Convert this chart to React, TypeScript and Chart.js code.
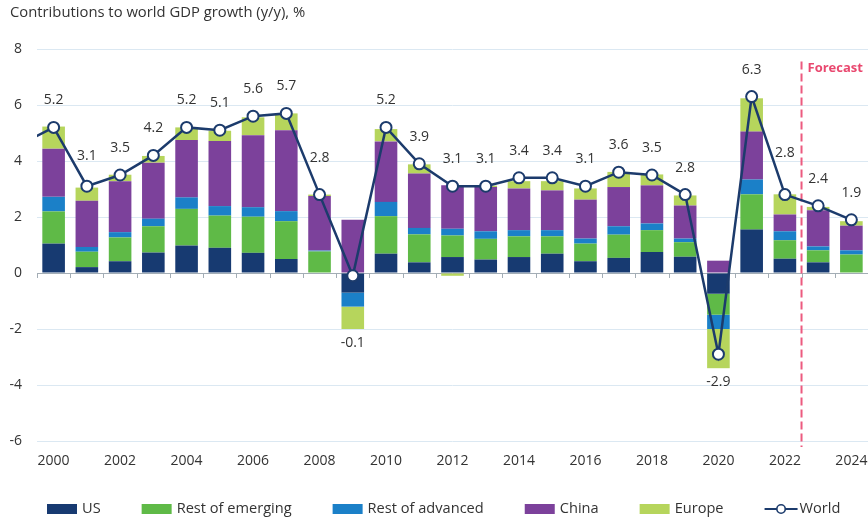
import React, { useEffect, useRef } from "react";
import { Chart, registerables } from "chart.js";

Chart.register(...registerables);

// ---------------- data ----------------
const years = [
  2000, 2001, 2002, 2003, 2004, 2005, 2006, 2007, 2008, 2009, 2010, 2011, 2012,
  2013, 2014, 2015, 2016, 2017, 2018, 2019, 2020, 2021, 2022, 2023, 2024,
];
const tickYears = [2000, 2002, 2004, 2006, 2008, 2010, 2012, 2014, 2016, 2018, 2020, 2022, 2024];

const usData = [1.05, 0.21, 0.42, 0.73, 0.98, 0.9, 0.72, 0.5, 0, -0.7, 0.69, 0.38, 0.57, 0.48, 0.57, 0.69, 0.42, 0.54, 0.75, 0.58, -0.74, 1.55, 0.51, 0.38, 0];
const restEmergingData = [1.15, 0.55, 0.85, 0.94, 1.31, 1.15, 1.29, 1.35, 0.77, 0, 1.34, 1.0, 0.77, 0.74, 0.74, 0.62, 0.63, 0.83, 0.78, 0.52, -0.75, 1.26, 0.66, 0.43, 0.66];
const restAdvancedData = [0.52, 0.17, 0.19, 0.27, 0.41, 0.34, 0.34, 0.36, 0.03, -0.5, 0.51, 0.23, 0.24, 0.27, 0.22, 0.22, 0.18, 0.3, 0.24, 0.13, -0.51, 0.53, 0.32, 0.14, 0.15];
const chinaData = [1.72, 1.65, 1.82, 2.0, 2.05, 2.32, 2.57, 2.89, 1.95, 1.9, 2.16, 1.94, 1.55, 1.58, 1.49, 1.42, 1.39, 1.4, 1.36, 1.18, 0.44, 1.71, 0.6, 1.29, 0.88];
const europeData = [0.79, 0.47, 0.23, 0.24, 0.45, 0.37, 0.64, 0.6, 0.05, -0.8, 0.44, 0.33, -0.1, 0.05, 0.26, 0.33, 0.4, 0.54, 0.39, 0.36, -1.4, 1.19, 0.72, 0.12, 0.16];
const worldData = [5.2, 3.1, 3.5, 4.2, 5.2, 5.1, 5.6, 5.7, 2.8, -0.1, 5.2, 3.9, 3.1, 3.1, 3.4, 3.4, 3.1, 3.6, 3.5, 2.8, -2.9, 6.3, 2.8, 2.4, 1.9];
// the world line enters the chart from the previous year (estimated)
const worldPrevYear = 1999;
const worldPrevValue = 4.6;

const forecastStart = 2022.5;
const forecastLineTopValue = 7.55;
const forecastLabelValue = 7.3;

const titleText = "Contributions to world GDP growth (y/y), %";
const forecastText = "Forecast";

// ---------------- styles ----------------
const FONT = "'Open Sans', 'Noto Sans', sans-serif";
const TEXT = "#333333";
const C_US = "#173a71";
const C_ROE = "#5fba47";
const C_ROA = "#1b80c8";
const C_CHINA = "#7c419b";
const C_EUROPE = "#b6d55c";
const C_WORLD = "#1c3b6c";
const C_FORECAST = "#e9486f";

const barSeries = [
  { label: "US", data: usData, color: C_US },
  { label: "Rest of emerging", data: restEmergingData, color: C_ROE },
  { label: "Rest of advanced", data: restAdvancedData, color: C_ROA },
  { label: "China", data: chinaData, color: C_CHINA },
  { label: "Europe", data: europeData, color: C_EUROPE },
];

const overlayPlugin = {
  id: "overlay",
  beforeDatasetsDraw(chart: any) {
    const { ctx, chartArea, scales } = chart;
    const x = scales.x;
    const y = scales.y;
    const y0 = y.getPixelForValue(0);
    ctx.save();
    // small ticks on the zero line between the bars
    ctx.strokeStyle = "#a3adb5";
    ctx.lineWidth = 1;
    ctx.beginPath();
    const bounds = [years[0] - 0.5, ...years.map((v) => v + 0.5)];
    for (const b of bounds) {
      const px = Math.round(x.getPixelForValue(b)) + 0.5;
      ctx.moveTo(px, y0);
      ctx.lineTo(px, y0 + 5);
    }
    ctx.stroke();
    // forecast divider
    const fx = x.getPixelForValue(forecastStart);
    ctx.strokeStyle = "#ec5a7f";
    ctx.lineWidth = 2;
    ctx.setLineDash([8, 4]);
    ctx.beginPath();
    ctx.moveTo(fx, y.getPixelForValue(forecastLineTopValue));
    ctx.lineTo(fx, chartArea.bottom + 6);
    ctx.stroke();
    ctx.restore();
  },
  afterDraw(chart: any) {
    const { ctx, chartArea, scales } = chart;
    const x = scales.x;
    const y = scales.y;
    ctx.save();

    // title
    ctx.font = `14.8px ${FONT}`;
    ctx.fillStyle = TEXT;
    ctx.textAlign = "left";
    ctx.textBaseline = "middle";
    ctx.fillText(titleText, 10, 13);

    // forecast label
    const fx = x.getPixelForValue(forecastStart);
    ctx.font = `bold 13px ${FONT}`;
    ctx.fillStyle = C_FORECAST;
    ctx.fillText(forecastText, fx + 6, y.getPixelForValue(forecastLabelValue));

    // world value labels
    const meta = chart.getDatasetMeta(barSeries.length);
    ctx.font = `14px ${FONT}`;
    ctx.fillStyle = TEXT;
    ctx.textAlign = "center";
    years.forEach((_yr, i) => {
      const pt = meta.data[i + 1];
      if (!pt) return;
      const v = worldData[i];
      let cy: number;
      if (v < 0) {
        const negSum = barSeries.reduce((s, sr) => s + Math.min(sr.data[i], 0), 0);
        cy = y.getPixelForValue(negSum) + 14;
      } else {
        cy = pt.y - 27;
        const half = 10;
        for (const nb of [meta.data[i], meta.data[i + 2]]) {
          if (!nb) continue;
          const ex = nb.x < pt.x ? pt.x - half : pt.x + half;
          const ly = pt.y + ((nb.y - pt.y) * (ex - pt.x)) / (nb.x - pt.x);
          if (ly < pt.y) cy = Math.min(cy, ly - 12);
        }
      }
      ctx.fillText(v.toFixed(1), pt.x, cy);
    });

    // legend
    ctx.textAlign = "left";
    ctx.font = `14.6px ${FONT}`;
    let lx = chartArea.left + 10;
    const lyc = 509;
    const items = [
      ...barSeries.map((s) => ({ label: s.label, color: s.color, line: false })),
      { label: "World", color: C_WORLD, line: true },
    ];
    for (const it of items) {
      if (it.line) {
        ctx.strokeStyle = it.color;
        ctx.lineWidth = 2;
        ctx.beginPath();
        ctx.moveTo(lx, lyc);
        ctx.lineTo(lx + 33, lyc);
        ctx.stroke();
        ctx.beginPath();
        ctx.arc(lx + 16.5, lyc, 4.2, 0, Math.PI * 2);
        ctx.fillStyle = "#ffffff";
        ctx.fill();
        ctx.lineWidth = 1.6;
        ctx.stroke();
      } else {
        ctx.fillStyle = it.color;
        ctx.fillRect(lx, lyc - 5, 30, 10);
      }
      ctx.fillStyle = TEXT;
      ctx.fillText(it.label, lx + 35, lyc);
      lx += 35 + ctx.measureText(it.label).width + 41;
    }
    ctx.restore();
  },
};

export default function App() {
  const canvasRef = useRef<HTMLCanvasElement | null>(null);

  useEffect(() => {
    const canvas = canvasRef.current;
    if (!canvas) return;

    const datasets: any[] = barSeries.map((s) => ({
      type: "bar",
      label: s.label,
      data: years.map((yr, i) => ({ x: yr, y: s.data[i] })),
      backgroundColor: s.color,
      borderWidth: 0,
      categoryPercentage: 1,
      barPercentage: 0.68,
      order: 1,
    }));
    datasets.push({
      type: "line",
      label: "World",
      stack: "world",
      data: [
        { x: worldPrevYear, y: worldPrevValue },
        ...years.map((yr, i) => ({ x: yr, y: worldData[i] })),
      ],
      borderColor: C_WORLD,
      borderWidth: 2.5,
      pointRadius: (c: any) => (c.dataIndex === 0 ? 0 : 5.5),
      pointBorderWidth: 2,
      pointBackgroundColor: "#ffffff",
      pointBorderColor: C_WORLD,
      tension: 0,
      order: 0,
    });

    const chart = new Chart(canvas, {
      type: "bar",
      data: { datasets },
      options: {
        animation: false,
        responsive: false,
        events: [],
        layout: { autoPadding: false, padding: { left: 0, right: 0, top: 49, bottom: 38 } },
        plugins: {
          legend: { display: false },
          title: { display: false },
          tooltip: { enabled: false },
        },
        scales: {
          x: {
            type: "linear",
            stacked: true,
            offset: false,
            min: years[0] - 0.5,
            max: years[years.length - 1] + 0.5,
            grid: { display: false, drawTicks: false, offset: false },
            border: { display: false },
            afterBuildTicks: (axis: any) => {
              axis.ticks = tickYears.map((v) => ({ value: v }));
            },
            afterFit: (axis: any) => {
              axis.height = 40;
              axis.paddingLeft = 0;
              axis.paddingRight = 0;
            },
            ticks: {
              autoSkip: false,
              maxRotation: 0,
              padding: 12,
              color: TEXT,
              font: { family: FONT, size: 14 },
              callback: (v: any) => String(v),
            },
          },
          y: {
            stacked: true,
            min: -6,
            max: 8,
            grid: {
              drawTicks: false,
              color: (c: any) => (c.tick && c.tick.value === 0 ? "#a3adb5" : "#dbe8f2"),
              lineWidth: 1,
            },
            border: { display: false },
            afterFit: (axis: any) => {
              axis.width = 37;
              axis.paddingTop = 0;
              axis.paddingBottom = 0;
            },
            ticks: {
              stepSize: 2,
              padding: 15,
              color: TEXT,
              font: { family: FONT, size: 14 },
            },
          },
        },
      } as any,
      plugins: [overlayPlugin],
    });

    return () => chart.destroy();
  }, []);

  return (
    <div style={{ position: "fixed", left: 0, top: 0, width: 868, height: 519, background: "#ffffff" }}>
      <canvas ref={canvasRef} width={868} height={519} style={{ width: 868, height: 519, display: "block" }} />
    </div>
  );
}
